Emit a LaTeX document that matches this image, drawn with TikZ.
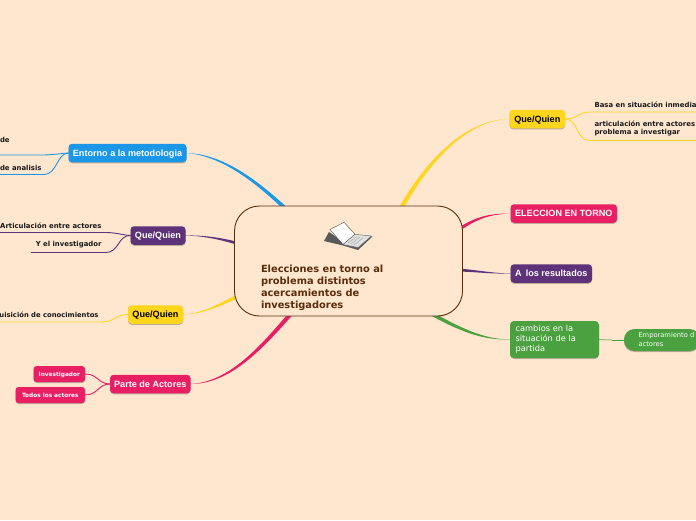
\documentclass[tikz,border=0pt]{standalone}
\usepackage{fontspec}
\setmainfont{DejaVu Sans}
\newfontfamily\arialb{Liberation Sans Bold}
\usetikzlibrary{shadows,calc,backgrounds}
\pgfdeclarelayer{paper}
\pgfsetlayers{paper,background,main}
\definecolor{bgc}{HTML}{FEE6CF}
\definecolor{blueb}{HTML}{1B97E8}
\definecolor{yellowb}{HTML}{FFD51E}
\definecolor{purpleb}{HTML}{5E3278}
\definecolor{pinkb}{HTML}{E81F63}
\definecolor{greenb}{HTML}{4BA13F}
\definecolor{brownb}{HTML}{5A2D0C}
\tikzset{
  x=1pt,y=-1pt,
  every node/.style={inner sep=0pt,outer sep=0pt},
  softshadow/.style={drop shadow={shadow xshift=0pt,shadow yshift=-1pt,opacity=.25,fill=black}},
  boxbase/.style={rounded corners=3.5pt,align=center,font=\arialb\fontsize{9.1}{11}\selectfont,text=white,text height=7pt,text depth=1pt,softshadow},
  topic/.style={boxbase,fill=#1},
  small/.style={boxbase,rounded corners=3pt,fill=pinkb,font=\fontsize{5.8}{8}\selectfont\bfseries,text height=5.5pt,text depth=1.5pt},
  leaf/.style={anchor=west,align=left,text=black!90,font=\fontsize{6.9}{8.4}\selectfont\bfseries},
  leafr/.style={leaf,anchor=east,align=right},
  sub/.style={line width=.9pt,color=#1,line cap=round},
  main/.style={fill=#1,draw=none},
}
\begin{document}
\begin{tikzpicture}
\useasboundingbox (0,0) rectangle (696,520);
\clip (0,0) rectangle (696,520);
\begin{pgfonlayer}{paper}
\fill[bgc] (0,0) rectangle (696,520);
\end{pgfonlayer}

% points inside the central box, where branches end
\coordinate (cBlue) at (287,210);
\coordinate (cYelT) at (400,210);
\coordinate (cPinkT) at (458,230);
\coordinate (cPurR) at (458,270);
\coordinate (cGreen) at (432,314);
\coordinate (cPinkB) at (294,310);
\coordinate (cYelB) at (240,295);
\coordinate (cPurL) at (240,244);

% free ends of sub-branches
\coordinate (e1) at (0,155);
\coordinate (e2) at (0,174.5);
\coordinate (e3) at (0,232.5);
\coordinate (e4) at (31,252.5);
\coordinate (e5) at (0,322);
\coordinate (e6) at (696,112);
\coordinate (e7) at (696,140.5);

\path (127.5,153) node[topic=blueb,minimum width=118,minimum height=18.5] (entorno) {Entorno a la metodologia};
\path (158,235.5) node[topic=purpleb,minimum width=55,minimum height=18.5] (qqp) {Que/Quien};
\path (155.5,314.5) node[topic=yellowb,text=black,minimum width=55,minimum height=18.5] (qqy) {Que/Quien};
\path (150.3,384) node[topic=pinkb,minimum width=80.5,minimum height=18.5] (parte) {Parte de Actores};
\path (59.3,374) node[small,minimum width=51.5,minimum height=16] (inv) {Investigador};
\path (50.3,395) node[small,minimum width=69.5,minimum height=16] (todos) {Todos los actores};
\path (537.3,119) node[topic=yellowb,text=black,minimum width=55.5,minimum height=18.5] (qqr) {Que/Quien};
\path (563.8,213.5) node[topic=pinkb,minimum width=106.5,minimum height=18.5] (elec) {ELECCION EN TORNO};
\path (551.3,273.5) node[topic=purpleb,minimum width=81.5,minimum height=18.5] (alos) {A\, los resultados};
\path (554.5,339.5) node[topic=greenb,minimum width=89,minimum height=37,rounded corners=4pt] (camb) {};
\path (662,340) node[fill=greenb,minimum width=76,minimum height=22,rounded corners=10.5pt,softshadow] (emp) {};

\begin{pgfonlayer}{background}
% tapered main branches
\fill[main=blueb] (entorno.east) .. controls (222,154) and (255,178) .. ($(cBlue)+(1.5,-1.2)$) -- ($(cBlue)+(-1.5,1.2)$) .. controls (253,180) and (221,156) .. (entorno.east) -- cycle;
\fill[main=yellowb] (qqr.west) .. controls (468,120) and (430,160) .. ($(cYelT)+(1.8,1.2)$) -- ($(cYelT)+(-1.8,-1.2)$) .. controls (427,158) and (467,119) .. (qqr.west) -- cycle;
\fill[main=pinkb] (elec.west) .. controls (490,214.5) and (478,218) .. ($(cPinkT)+(0,2)$) -- ($(cPinkT)+(0,-2)$) .. controls (477,216) and (490,213.5) .. (elec.west) -- cycle;
\fill[main=purpleb] (alos.west) .. controls (490,274) and (478,272) .. ($(cPurR)+(0,1.5)$) -- ($(cPurR)+(0,-1.5)$) .. controls (478,270) and (490,273) .. (alos.west) -- cycle;
\fill[main=greenb] (camb.west) .. controls (485,340) and (465,334) .. ($(cGreen)+(-.9,1.6)$) -- ($(cGreen)+(.9,-1.6)$) .. controls (466,331) and (486,339) .. (camb.west) -- cycle;
\fill[main=pinkb] (parte.east) .. controls (230,384) and (262,350) .. ($(cPinkB)+(1.8,1.2)$) -- ($(cPinkB)+(-1.8,-1.2)$) .. controls (259,348) and (229,382) .. (parte.east) -- cycle;
\fill[main=yellowb] (qqy.east) .. controls (205,314) and (222,305) .. ($(cYelB)+(1,1.7)$) -- ($(cYelB)+(-1,-1.7)$) .. controls (221,303) and (204,313) .. (qqy.east) -- cycle;
\fill[main=purpleb] (qqp.east) .. controls (205,236) and (222,240) .. ($(cPurL)+(0,1.6)$) -- ($(cPurL)+(0,-1.6)$) .. controls (222,238) and (205,235) .. (qqp.east) -- cycle;

% sub-branches
\draw[sub=blueb] (entorno.west) .. controls (60,153.5) and (52,155) .. (42,155) -- (e1);
\draw[sub=blueb] (entorno.west) .. controls (57,153) and (57,174.5) .. (44,174.5) -- (e2);
\draw[sub=purpleb] (qqp.west) .. controls (122,235) and (116,232.5) .. (106,232.5) -- (e3);
\draw[sub=purpleb] (qqp.west) .. controls (118,235) and (119,252.5) .. (106,252.5) -- (e4);
\draw[sub=yellowb] (qqy.west) .. controls (115,314.5) and (115,322) .. (102,322) -- (e5);
\draw[sub=pinkb] (parte.west) .. controls (98,384) and (98,374) .. (inv.east);
\draw[sub=pinkb] (parte.west) .. controls (98,384) and (98,395) .. (todos.east);
\draw[sub=yellowb] (qqr.east) .. controls (578,119) and (578,112) .. (590,112) -- (e6);
\draw[sub=yellowb] (qqr.east) .. controls (578,119) and (576,140.5) .. (590,140.5) -- (e7);
\draw[line width=1pt,color=greenb!60!bgc] (camb.east) -- (612,340);
\draw[line width=1pt,color=greenb] (612,340) -- (emp.west);
\end{pgfonlayer}

% centre
\draw[draw=brownb,fill=bgc,line width=.9pt,rounded corners=25pt] (234.5,206) rectangle (462.5,316);
\node[anchor=north west,align=left,text=brownb,font=\fontsize{9.85}{11.9}\selectfont\bfseries] (title) at (261,265)
  {Elecciones en torno al\\problema distintos\\acercamientos de\\investigadores};

% book
\fill[black!65] (324,241) -- (329,232) -- (344,242) -- (357,235) -- (372.5,236.5) -- (358,250) -- (343,245.5) -- cycle;
\fill[white,draw=black!70,line width=.4pt] (330,229.5) -- (344,222.3) -- (355,234.3) -- (343,244.5) -- cycle;
\fill[white!88!black,draw=black!60,line width=.4pt] (343,244.5) -- (355,234.3) -- (371.5,236) -- (358,247.5) -- cycle;
\draw[black!40,line width=.3pt] (348,243) -- (357,236.5) (351,244) -- (360,237) (354,245) -- (363,238);

% leaf texts
\node[leaf] (l1) at (0,139.5) {de};
\node[leaf] (l2) at (0,167.5) {de analisis};
\node[leafr] (l3) at (101.5,225.5) {Articulación entre actores};
\node[leafr] (l4) at (101.5,244.5) {Y el investigador};
\node[leafr,font=\fontsize{6.8}{8.4}\selectfont\bfseries] (l5) at (98.5,314.5) {uisición de conocimientos};
\node[leaf] (l6) at (594.5,104.5) {Basa en situación inmedia};
\node[leaf,anchor=north west] (l7) at (594.5,120.5) {articulación entre actores\\problema a investigar};
\node[anchor=north west,align=left,text=white,font=\fontsize{8.3}{9.7}\selectfont] (l8) at (515.5,325.5) {cambios en la\\situación de la\\partida};
\node[anchor=north west,align=left,text=white,font=\fontsize{6.7}{9.3}\selectfont] (l9) at (638.5,332) {Emporamiento d\\actores};
\end{tikzpicture}
\end{document}
